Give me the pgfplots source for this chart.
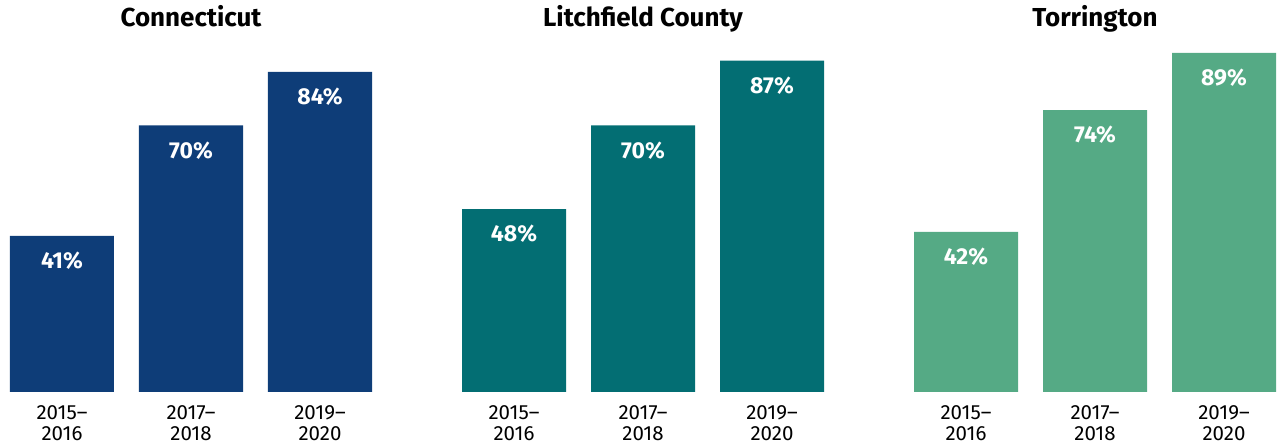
\documentclass[border=0pt]{standalone}
\usepackage{pgfplots}
\pgfplotsset{compat=1.18}
\usepackage{fontspec}
\setmainfont{Fira Sans}
\definecolor{ctblue}{HTML}{0E3D78}
\definecolor{lcteal}{HTML}{036E73}
\definecolor{torgreen}{HTML}{55AA85}

\pgfplotsset{panel/.style={
    scale only axis, width=362pt, height=381pt,
    xmin=-0.4031, xmax=2.4031, ymin=0, ymax=100,
    ybar, bar width=104pt, clip=false,
    axis line style={draw=none}, major tick length=0pt,
    ytick=\empty, xtick={0,1,2},
    xticklabels={2015--\\2016, 2017--\\2018, 2019--\\2020},
    xticklabel style={align=center, anchor=north, inner sep=0pt, yshift=-13pt,
      font=\fontsize{20.5}{21}\selectfont},
    /pgf/number format/assume math mode=true,
    nodes near coords={\pgfmathprintnumber{\pgfplotspointmeta}\%},
    every node near coord/.append style={white, anchor=center, yshift=-25pt,
      font=\fontsize{23}{26}\selectfont\bfseries},
  }}

\begin{document}
\begin{tikzpicture}
\path[use as bounding box] (0,0) rectangle (1278pt,447pt);

\begin{axis}[panel, at={(10pt,55pt)}, anchor=south west]
  \addplot[fill=ctblue, draw=none] coordinates {(0,41) (1,70) (2,84)};
  \node[anchor=base, yshift=-15.7pt, font=\fontsize{26}{30}\selectfont\bfseries]
    at (rel axis cs:0.5,1) {Connecticut};
\end{axis}

\begin{axis}[panel, at={(462pt,55pt)}, anchor=south west]
  \addplot[fill=lcteal, draw=none] coordinates {(0,48) (1,70) (2,87)};
  \node[anchor=base, yshift=-15.7pt, font=\fontsize{26}{30}\selectfont\bfseries]
    at (rel axis cs:0.5,1) {Litchfield County};
\end{axis}

\begin{axis}[panel, at={(914pt,55pt)}, anchor=south west]
  \addplot[fill=torgreen, draw=none] coordinates {(0,42) (1,74) (2,89)};
  \node[anchor=base, yshift=-15.7pt, font=\fontsize{26}{30}\selectfont\bfseries]
    at (rel axis cs:0.5,1) {Torrington};
\end{axis}
\end{tikzpicture}
\end{document}
